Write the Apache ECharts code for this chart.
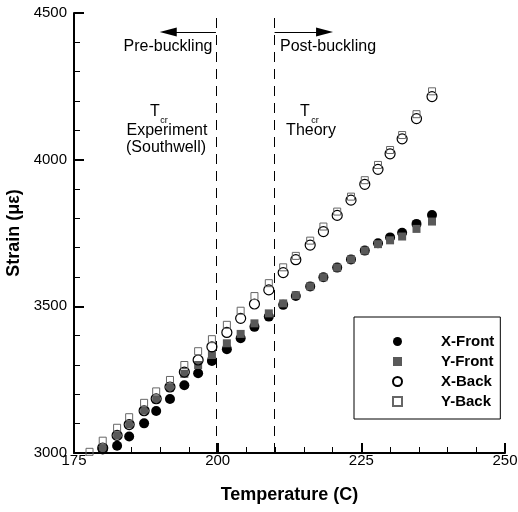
<!DOCTYPE html>
<html lang="en">
<head>
<meta charset="UTF-8">
<title>Strain vs Temperature</title>
<style>
    html, body { margin: 0; padding: 0; background: #fff; }
    #chart { width: 518px; height: 512px; }
</style>
</head>
<body>
<div id="chart"></div>
<script src="https://cdn.jsdelivr.net/npm/echarts@6/dist/echarts.min.js"></script>
<script>
    // temperatures (C) shared by the four gauges
    var temps = [180.0, 182.5, 184.6, 187.2, 189.3, 191.7, 194.2, 196.6, 199.0, 201.6, 204.0, 206.4, 208.9,
        211.4, 213.6, 216.1, 218.4, 220.8, 223.2, 225.6, 227.9, 230.0, 232.1, 234.6, 237.3];
    var xFront = [3012, 3025, 3056, 3101, 3143, 3184, 3231, 3272, 3314, 3354, 3391, 3430, 3465,
        3505, 3535, 3568, 3599, 3632, 3660, 3690, 3715, 3735, 3751, 3781, 3811];
    var yFront = [3017, 3060, 3097, 3144, 3183, 3223, 3270, 3300, 3334, 3374, 3406, 3442, 3476,
        3510, 3538, 3568, 3599, 3632, 3660, 3690, 3712, 3725, 3738, 3764, 3789];
    var xBack = [3017, 3060, 3097, 3144, 3185, 3225, 3276, 3317, 3362, 3411, 3459, 3508, 3556,
        3615, 3659, 3709, 3755, 3810, 3862, 3916, 3967, 4020, 4071, 4140, 4215];
    // Y-Back has one extra reading at the start
    var yBackTemps = [177.7].concat(temps);
    var yBack = [3004, 3042, 3086, 3122, 3171, 3210, 3249, 3300, 3347, 3388, 3437, 3485, 3535, 3579,
        3633, 3672, 3724, 3772, 3823, 3874, 3930, 3982, 4033, 4084, 4155, 4233];

    var tcrExperiment = 199.7;
    var tcrTheory = 209.9;

    var xTicks = [175, 200, 225, 250];
    var yTicks = [3000, 3500, 4000, 4500];

    var font = 'Liberation Sans, Arial, sans-serif';

    function pairs(xs, ys) {
        return xs.map(function(x, i) { return [x, ys[i]]; });
    }

    function note(text, x, y, size) {
        return {
            type: 'text', x: x, y: y, silent: true,
            style: { text: text, font: size + 'px ' + font, fill: '#000', align: 'center', verticalAlign: 'middle' }
        };
    }

    var chart = echarts.init(document.getElementById('chart'));

    var axisCommon = {
        type: 'value',
        splitLine: { show: false },
        axisLine: { show: true, onZero: false, lineStyle: { color: '#000', width: 2 } },
        axisTick: { show: true, inside: true, length: 10, lineStyle: { color: '#000', width: 2 } },
        minorTick: { show: true, splitNumber: 5, length: 6, lineStyle: { color: '#000', width: 1 } },
        nameLocation: 'middle',
        nameTextStyle: { color: '#000', fontFamily: font, fontSize: 18, fontWeight: 'bold' }
    };

    var option = {
        animation: false,
        backgroundColor: '#fff',
        grid: { left: 74, right: 13, top: 13, bottom: 59, containLabel: false, outerBoundsMode: 'none' },
        xAxis: Object.assign({}, axisCommon, {
            min: xTicks[0], max: xTicks[xTicks.length - 1], interval: 25,
            name: 'Temperature (C)', nameGap: 33,
            axisLabel: { color: '#000', fontFamily: font, fontSize: 15, margin: 0 }
        }),
        yAxis: Object.assign({}, axisCommon, {
            min: yTicks[0], max: yTicks[yTicks.length - 1], interval: 500,
            name: 'Strain (\u03bc\u03b5)', nameGap: 38,
            axisLabel: {
                color: '#000', fontFamily: font, fontSize: 15, margin: 7,
                formatter: function(v) { return String(v); }
            }
        }),
        legend: {
            orient: 'vertical',
            left: 354, top: 317,
            backgroundColor: '#fff',
            borderColor: '#000', borderWidth: 1, borderRadius: 0,
            padding: [17, 6, 10, 38],
            itemWidth: 9, itemHeight: 9, itemGap: 5,
            textStyle: { color: '#000', fontFamily: font, fontSize: 15, fontWeight: 'bold', lineHeight: 15, padding: [0, 0, 0, 34] },
            data: ['X-Front', 'Y-Front', 'X-Back', 'Y-Back']
        },
        graphic: [
            note('Pre-buckling', 168, 47, 16),
            note('Post-buckling', 328, 47, 16),
            note('T', 155, 112, 16),
            note('cr', 164, 121, 9),
            note('Experiment', 167, 131, 16),
            note('(Southwell)', 166, 148, 16),
            note('T', 305, 112, 16),
            note('cr', 315, 121, 9),
            note('Theory', 311, 131, 16)
        ],
        series: [{
            name: 'X-Front',
            type: 'scatter',
            symbol: 'circle',
            symbolSize: 10,
            itemStyle: { color: '#000', opacity: 1 },
            data: pairs(temps, xFront),
            markLine: {
                silent: true,
                symbol: 'none',
                label: { show: false },
                lineStyle: { color: '#000', width: 1, type: [10, 7] },
                data: [{ xAxis: tcrExperiment }, { xAxis: tcrTheory }]
            }
        }, {
            name: 'Y-Front',
            type: 'scatter',
            symbol: 'rect',
            symbolSize: 8,
            itemStyle: { color: '#595959', opacity: 1 },
            data: pairs(temps, yFront),
            markLine: {
                silent: true,
                symbol: ['none', 'triangle'],
                symbolSize: [9, 17],
                label: { show: false },
                lineStyle: { color: '#000', width: 1, type: 'solid' },
                data: [
                    [{ coord: [tcrExperiment, 4435] }, { coord: [191.4, 4435] }],
                    [{ coord: [tcrTheory, 4435] }, { coord: [218.6, 4435] }]
                ]
            }
        }, {
            name: 'X-Back',
            type: 'scatter',
            symbol: 'circle',
            symbolSize: 10,
            itemStyle: { color: 'rgba(0,0,0,0)', borderColor: '#000', borderWidth: 1.2, opacity: 1 },
            data: pairs(temps, xBack)
        }, {
            name: 'Y-Back',
            type: 'scatter',
            symbol: 'rect',
            symbolSize: 7,
            itemStyle: { color: 'rgba(0,0,0,0)', borderColor: '#666', borderWidth: 1, opacity: 1 },
            data: pairs(yBackTemps, yBack)
        }]
    };

    chart.setOption(option);
</script>
</body>
</html>
